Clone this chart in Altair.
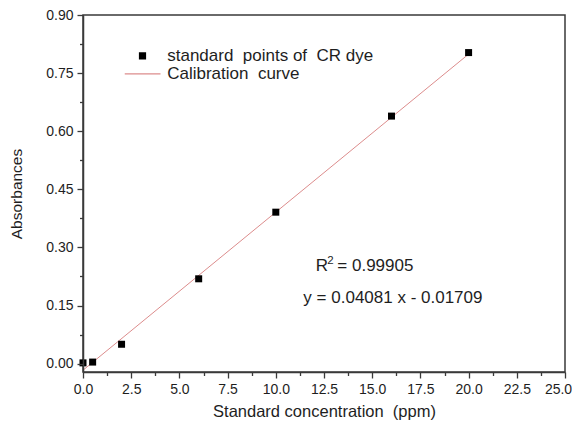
import altair as alt
import pandas as pd

# ---- data ----
conc = [0, 0.5, 2, 6, 10, 16, 20]
absorb = [0.002, 0.004, 0.050, 0.219, 0.391, 0.639, 0.803]
fit_x = [0, 20]
fit_y = [-0.017, 0.799]
x_ticks = [i * 1.25 for i in range(21)]
y_ticks = [round(i * 0.075, 3) for i in range(13)]

POINTS = "standard\u00a0 points of\u00a0 CR dye"
CURVE = "Calibration\u00a0 curve"

ann_text = ["R", "2", "= 0.99905", "y = 0.04081 x - 0.01709"]
ann_x = [12.07, 12.67, 13.19, 11.43]
ann_y = [0.240, 0.258, 0.240, 0.157]
ann_size = [17, 11.5, 17, 17]

FONT = "Liberation Sans"
AX = "#3a3a3a"
TXT = "#1e1e1e"

pts = pd.DataFrame({"x": conc, "y": absorb, "series": POINTS})
fit = pd.DataFrame({"x": fit_x, "y": fit_y, "series": CURVE})
ann = pd.DataFrame({"x": ann_x, "y": ann_y, "t": ann_text, "s": ann_size})

SQ = "M-0.2,-0.2H0.2V0.2H-0.2Z"
LN = "M-1,-0.03H1V0.03H-1Z"

xmajor = "round(datum.value*100) % 250 == 0"
ymajor = "round(datum.value*1000) % 150 == 0"

xscale = alt.Scale(domain=[0, 25], nice=False, zero=False)
yscale = alt.Scale(domain=[-0.0216, 0.9], nice=False, zero=False)

xaxis = alt.Axis(
    values=x_ticks,
    title="Standard concentration\u00a0 (ppm)",
    labelExpr=f"{xmajor} ? format(datum.value, '.1f') : ''",
    tickSize={"condition": {"test": xmajor, "value": 6}, "value": 3.5},
    labelOffset={"condition": {"test": "datum.value == 25", "value": -7}, "value": 0},
    labelOverlap=False, labelFlush=False, grid=False, zindex=1,
    labelFontSize=14, labelFont=FONT, labelColor=TXT, labelPadding=4,
    titleFontSize=16.5, titleFont=FONT, titleFontWeight="normal", titleColor=TXT,
    titlePadding=7.5,
    domainColor=AX, domainWidth=1.5, tickColor=AX, tickWidth=1.3,
)
yaxis = alt.Axis(
    values=y_ticks,
    title="Absorbances",
    labelExpr=f"{ymajor} ? format(datum.value, '.2f') : ''",
    tickSize={"condition": {"test": ymajor, "value": 6}, "value": 3.5},
    labelOverlap=False, labelFlush=False, grid=False, zindex=1,
    labelFontSize=14, labelFont=FONT, labelColor=TXT, labelPadding=4,
    titleFontSize=15.5, titleFont=FONT, titleFontWeight="normal", titleColor=TXT,
    titlePadding=21.5,
    domainColor=AX, domainWidth=1.5, tickColor=AX, tickWidth=1.3,
)

leg = alt.Legend(
    title=None, orient="none", legendX=41.5, legendY=33.4, padding=0,
    symbolSize=1296, labelFontSize=17, labelFont=FONT, labelColor=TXT,
    labelOffset=6.7, rowPadding=0, clipHeight=15, labelLimit=400,
    symbolOpacity=1, symbolStrokeWidth=0,
)

cscale = alt.Scale(domain=[POINTS, CURVE], range=["black", "#dc8c8c"])
sscale = alt.Scale(domain=[POINTS, CURVE], range=[SQ, LN])

line = alt.Chart(fit).mark_line(strokeWidth=1).encode(
    x=alt.X("x:Q", scale=xscale, axis=xaxis),
    y=alt.Y("y:Q", scale=yscale, axis=yaxis),
    color=alt.Color("series:N", scale=cscale, legend=leg),
)

points = alt.Chart(pts).mark_point(filled=True, size=1225, opacity=1).encode(
    x=alt.X("x:Q", scale=xscale, axis=xaxis),
    y=alt.Y("y:Q", scale=yscale, axis=yaxis),
    color=alt.Color("series:N", scale=cscale, legend=leg),
    shape=alt.Shape("series:N", scale=sscale, legend=leg),
)

texts = alt.Chart(ann).mark_text(align="left", baseline="alphabetic", font=FONT, color=TXT).encode(
    x=alt.X("x:Q", scale=xscale, axis=xaxis),
    y=alt.Y("y:Q", scale=yscale, axis=yaxis),
    text="t:N",
    size=alt.Size("s:Q", scale=None),
)

chart = alt.layer(line, points, texts).properties(
    width=482, height=357,
    autosize=alt.AutoSizeParams(type="none"),
    padding={"left": 75, "top": 7, "right": 7, "bottom": 49},
    background="white",
).configure_view(stroke=AX, strokeWidth=1.5)

chart.save("out.html", embed_options={"renderer": "svg", "actions": False})
